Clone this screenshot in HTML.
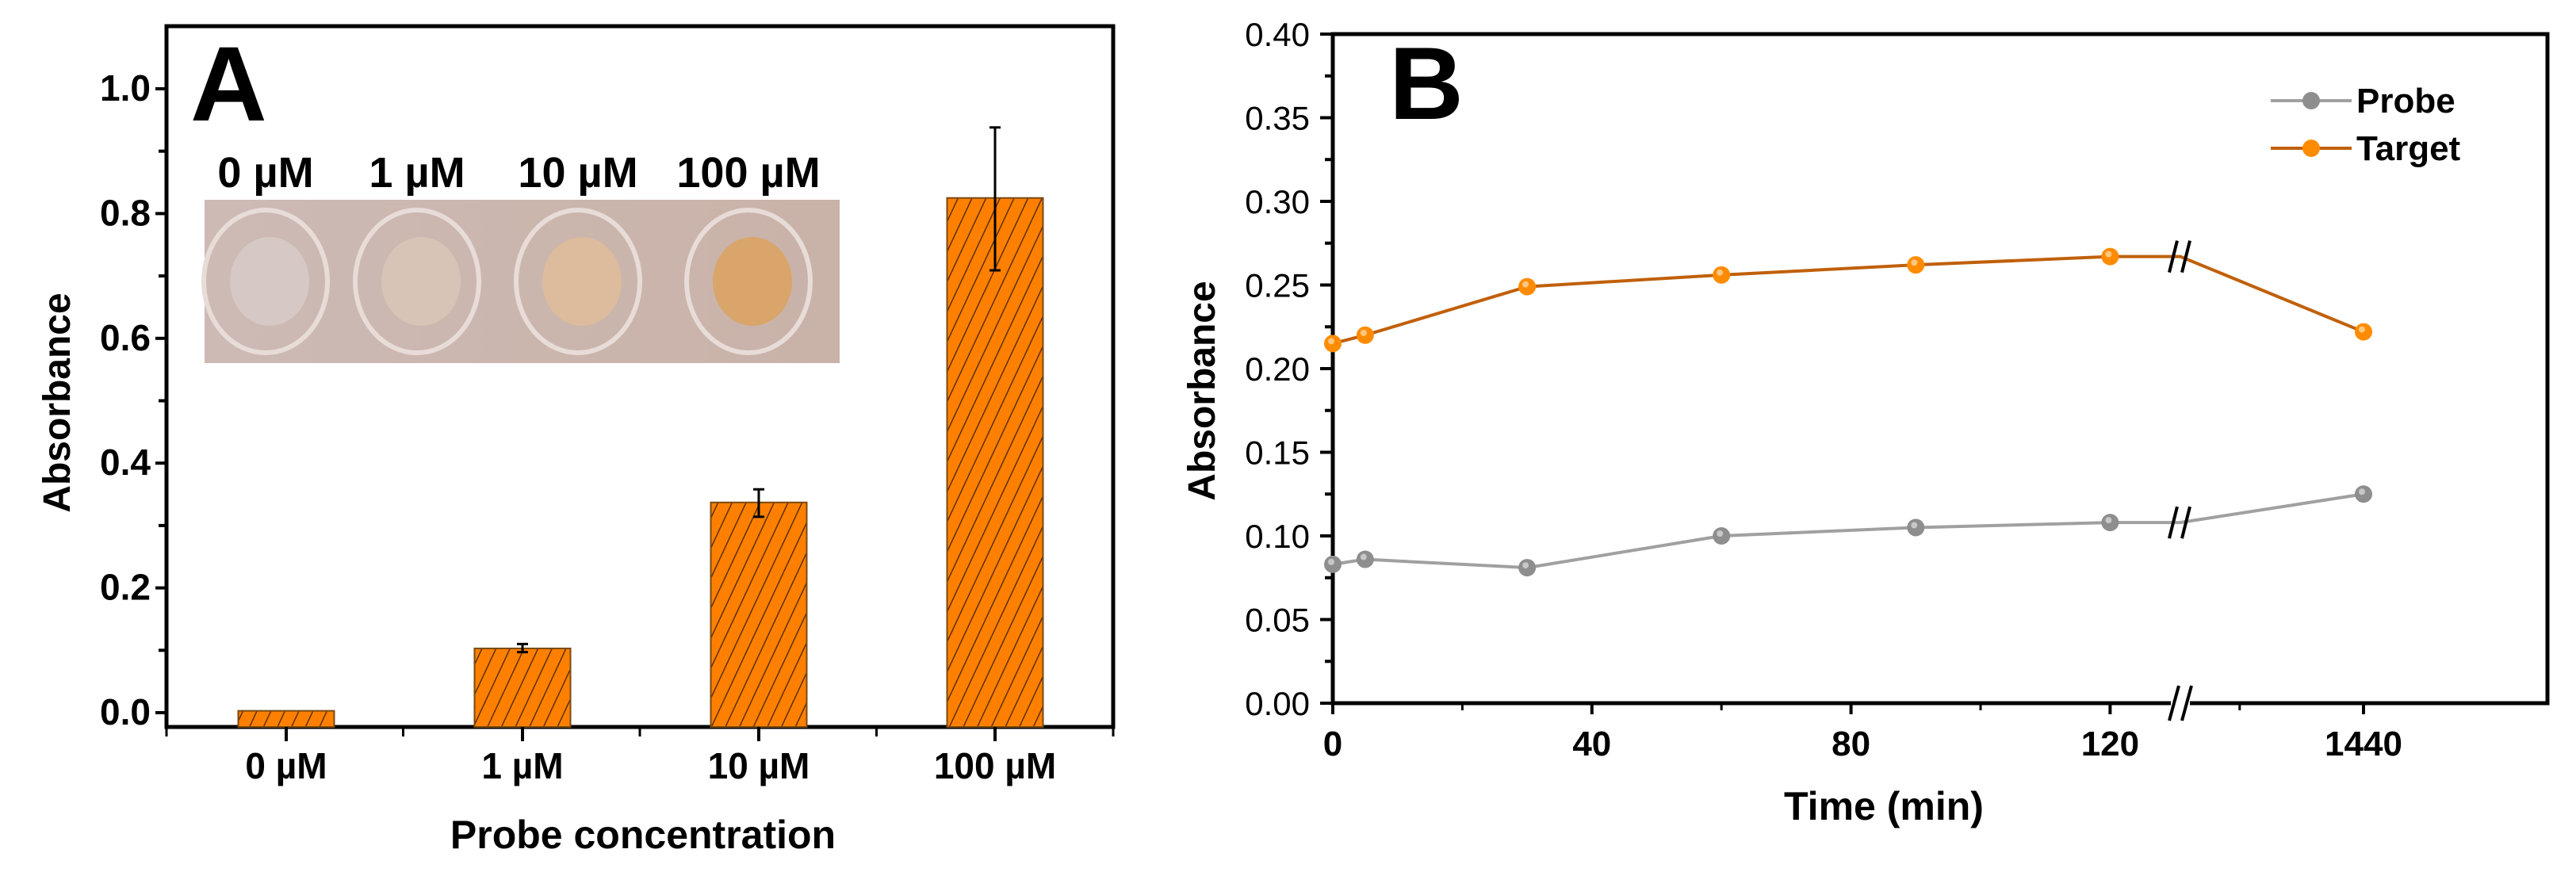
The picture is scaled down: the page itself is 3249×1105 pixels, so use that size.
<!DOCTYPE html>
<html><head><meta charset="utf-8">
<style>
html,body{margin:0;padding:0;background:#fff;}
svg{display:block;}
.nar{font-family:"Liberation Sans Narrow","Liberation Sans",sans-serif;font-weight:bold;}
.reg{font-family:"Liberation Sans",sans-serif;}
</style></head>
<body>
<svg id="fig" width="3249" height="1105" viewBox="0 0 3249 1105" xmlns="http://www.w3.org/2000/svg">
<defs>
<pattern id="hatch" patternUnits="userSpaceOnUse" width="16" height="16" patternTransform="rotate(25)">
<rect width="16" height="16" fill="#ff8000"/>
<line x1="0" y1="0" x2="0" y2="16" stroke="#5a3000" stroke-width="3"/>
</pattern>
<linearGradient id="photo" x1="0" x2="1" y1="0" y2="0">
<stop offset="0" stop-color="#cdbab5"/><stop offset="1" stop-color="#c9b2a8"/>
</linearGradient>
</defs>
<g id="panelA"></g>
<g id="panelB"></g>
</svg>
<script>
// Panel A data
const concLabels = ["0 µM","1 µM","10 µM","100 µM"];
const absValues = [0.003, 0.103, 0.337, 0.825];
const errHigh = [0.003, 0.11, 0.358, 0.938];
const errLow = [0.003, 0.097, 0.314, 0.709];
const yTicksA = [0.0, 0.2, 0.4, 0.6, 0.8, 1.0];
// Panel B data
const timesB = [0, 5, 30, 60, 90, 120];
const target = [0.215, 0.220, 0.249, 0.256, 0.262, 0.267];
const probe = [0.083, 0.086, 0.081, 0.100, 0.105, 0.108];
const lateTime = ["1440"];
const targetLate = [0.222];
const probeLate = [0.125];
const yTicksB = [0.00,0.05,0.10,0.15,0.20,0.25,0.30,0.35,0.40];
const xTicksB = [0, 40, 80, 120];

const NS="http://www.w3.org/2000/svg";
function mk(parent,tag,attrs,text){const e=document.createElementNS(NS,tag);for(const k in attrs)e.setAttribute(k,attrs[k]);if(text!==undefined)e.textContent=text;parent.appendChild(e);return e;}

// ---------- Panel A ----------
const A=document.getElementById('panelA');
const aL=210,aR=1404,aT=33,aB=917;
const yA=v=>899-787*v;
const xA=i=>361+i*298;
let e;
e=mk(A,'rect',{x:aL,y:aT,width:aR-aL,height:aB-aT,fill:'none',stroke:'#000','stroke-width':5});

yTicksA.forEach(v=>{
  e=mk(A,'line',{x1:aL-14,x2:aL,y1:yA(v),y2:yA(v),stroke:'#000','stroke-width':4});
  
  e=mk(A,'text',{x:aL-20,y:yA(v)+15,'text-anchor':'end','font-size':46,class:'nar'},v.toFixed(1));
  
  if(v<1){e=mk(A,'line',{x1:aL-10,x2:aL,y1:yA(v+0.1),y2:yA(v+0.1),stroke:'#000','stroke-width':4});
  }
});
for(let i=0;i<=4;i++){
  const xm=aL+(aR-aL)*i/4;
  e=mk(A,'line',{x1:xm,x2:xm,y1:aB,y2:aB+12,stroke:'#000','stroke-width':3});
  
}
concLabels.forEach((lab,i)=>{
  const x=xA(i),w=121;
  e=mk(A,'rect',{x:x-w/2,y:yA(absValues[i]),width:w,height:aB-yA(absValues[i]),fill:'url(#hatch)',stroke:'#7a4a10','stroke-width':2});
  
  if(i>0){
    e=mk(A,'path',{d:`M${x},${yA(errHigh[i])}V${yA(errLow[i])}M${x-7},${yA(errHigh[i])}h14M${x-7},${yA(errLow[i])}h14`,stroke:'#000','stroke-width':3,fill:'none'});
    
  }
  e=mk(A,'line',{x1:x,x2:x,y1:aB,y2:aB+18,stroke:'#000','stroke-width':4});
  
  e=mk(A,'text',{x:x,y:982,'text-anchor':'middle','font-size':46,class:'nar'},lab);
  
});
e=mk(A,'text',{x:811,y:1070,'text-anchor':'middle','font-size':50,class:'nar'},'Probe concentration');

e=mk(A,'text',{x:0,y:0,'text-anchor':'middle','font-size':48,class:'reg','font-weight':'bold',transform:'translate(88,508) rotate(-90)'},'Absorbance');

e=mk(A,'text',{x:240,y:152,'font-size':134,class:'reg','font-weight':'bold'},'A');

// inset photo
e=mk(A,'rect',{x:258,y:252,width:801,height:206,fill:'url(#photo)'});

const wellCol=['#d6c8c4','#d8c4b6','#dcbc9c','#d9a56a'];
const wellX=[335,526,729,944];
wellX.forEach((wx,i)=>{
  e=mk(A,'ellipse',{cx:wx,cy:355,rx:78,ry:90,fill:'none',stroke:'#e8dcd8','stroke-width':6});
  
  e=mk(A,'ellipse',{cx:wx+5,cy:355,rx:50,ry:56,fill:wellCol[i]});
  
  e=mk(A,'text',{x:wx,y:236,'text-anchor':'middle','font-size':54,class:'reg','font-weight':'bold'},['0 µM','1 µM','10 µM','100 µM'][i]);
  
});

// ---------- Panel B ----------
const B=document.getElementById('panelB');
const bL=1681,bR=3213,bT=43,bB=887;
const yB=v=>887-2110*v;
const xB=t=>1681+8.17*t;
const breakX=2750;
const xLate=2981;
e=mk(B,'rect',{x:bL,y:bT,width:bR-bL,height:bB-bT,fill:'none',stroke:'#000','stroke-width':5});

yTicksB.forEach((v,i)=>{
  e=mk(B,'line',{x1:bL-16,x2:bL,y1:yB(v),y2:yB(v),stroke:'#000','stroke-width':4});
  
  e=mk(B,'text',{x:1652,y:yB(v)+15,'text-anchor':'end','font-size':42,class:'reg'},v.toFixed(2));
  
  if(i<yTicksB.length-1){e=mk(B,'line',{x1:bL-10,x2:bL,y1:yB(v+0.025),y2:yB(v+0.025),stroke:'#000','stroke-width':4});
  }
});
xTicksB.forEach(t=>{
  e=mk(B,'line',{x1:xB(t),x2:xB(t),y1:bB,y2:bB+14,stroke:'#000','stroke-width':4});
  
  e=mk(B,'line',{x1:xB(t+20),x2:xB(t+20),y1:bB,y2:bB+9,stroke:'#000','stroke-width':3});
  
  e=mk(B,'text',{x:xB(t),y:953,'text-anchor':'middle','font-size':44,class:'nar','font-weight':'normal'},String(t));
  
});
e=mk(B,'line',{x1:xLate,x2:xLate,y1:bB,y2:bB+14,stroke:'#000','stroke-width':4});

e=mk(B,'text',{x:xLate,y:953,'text-anchor':'middle','font-size':44,class:'nar','font-weight':'normal'},lateTime[0]);

// axis break on x-axis
e=mk(B,'rect',{x:breakX-12,y:bB-20,width:24,height:40,fill:'#fff'});

e=mk(B,'path',{d:`M${breakX-14},${bB+22}L${breakX-2},${bB-22}M${breakX+2},${bB+22}L${breakX+14},${bB-22}`,stroke:'#000','stroke-width':4});


function series(vals,late,col,lineCol,name){
  const pts=vals.map((v,i)=>[xB(timesB[i]),yB(v)]);
  const last=pts[pts.length-1];
  let d='M'+pts.map(p=>p.join(',')).join('L')+`L${breakX},${last[1]}L${xLate},${yB(late[0])}`;
  e=mk(B,'path',{d:d,fill:'none',stroke:lineCol,'stroke-width':4});
  
  const by=last[1];
  e=mk(B,'path',{d:`M${breakX-14},${by+20}L${breakX-4},${by-20}M${breakX+2},${by+20}L${breakX+12},${by-20}`,stroke:'#000','stroke-width':4});
  
  pts.concat([[xLate,yB(late[0])]]).forEach(p=>{
    e=mk(B,'circle',{cx:p[0],cy:p[1],r:11,fill:col});
    
    e=mk(B,'circle',{cx:p[0]-2,cy:p[1]-3,r:4,fill:'#fff','fill-opacity':0.5});
    
  });
}
series(target,targetLate,'#ff8c00','#c0600a','target');
series(probe,probeLate,'#8e8e8e','#a0a0a0','probe');
// legend
e=mk(B,'g',{});

const leg=[['Probe','#8e8e8e','#a0a0a0',127],['Target','#ff8c00','#c0600a',187]];
leg.forEach(l=>{
  e=mk(B,'line',{x1:2864,x2:2966,y1:l[3],y2:l[3],stroke:l[2],'stroke-width':4});
  
  e=mk(B,'circle',{cx:2915,cy:l[3],r:11,fill:l[1]});
  
  e=mk(B,'text',{x:2972,y:l[3]+15,'font-size':44,class:'nar'},l[0]);
  
});
e=mk(B,'text',{x:2376,y:1034,'text-anchor':'middle','font-size':50,class:'nar'},'Time (min)');

e=mk(B,'text',{x:0,y:0,'text-anchor':'middle','font-size':48,class:'reg','font-weight':'bold',transform:'translate(1532,493) rotate(-90)'},'Absorbance');

e=mk(B,'text',{x:1752,y:150,'font-size':130,class:'reg','font-weight':'bold'},'B');

</script>
</body></html>
